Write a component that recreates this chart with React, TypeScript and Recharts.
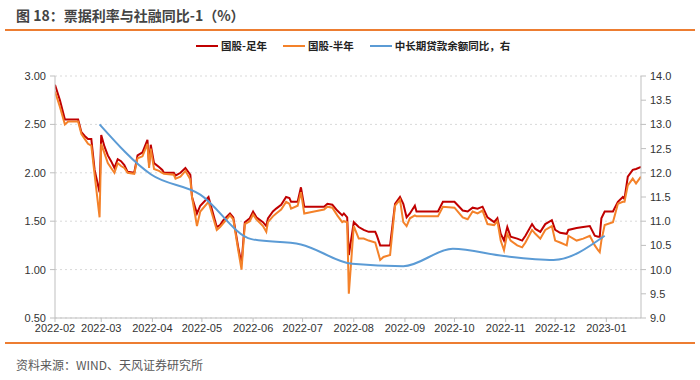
import { LineChart, Line, XAxis, YAxis, CartesianGrid } from "recharts";

// x values are days counted from 2022-02-01
const monthDays = [0, 28, 59, 89, 120, 150, 181, 212, 242, 273, 303, 334];
const monthLabels = [
  "2022-02", "2022-03", "2022-04", "2022-05", "2022-06", "2022-07",
  "2022-08", "2022-09", "2022-10", "2022-11", "2022-12", "2023-01",
];

const rateDays = [
  0, 3, 6, 8, 14, 16, 18, 20, 22, 24, 27, 28, 30, 32, 34, 36, 38, 40, 42, 44,
  48, 50, 53, 56, 57, 58, 60, 63, 65, 66, 72, 73, 76, 79, 82, 83, 86, 88, 93, 98,
  100, 102, 106, 108, 111, 113, 115, 118, 120, 122, 126, 128, 129, 132, 134, 137, 140, 142, 143, 147,
  149, 151, 157, 163, 165, 168, 171, 174, 175, 177, 178, 181, 184, 187, 190, 194, 195, 197, 199, 203,
  206, 209, 211, 213, 215, 218, 219, 232, 235, 242, 247, 250, 253, 256, 259, 262, 266, 268, 270, 272,
  274, 276, 280, 283, 285, 289, 291, 294, 297, 301, 303, 306, 310, 311, 316, 320, 324, 327, 329, 330,
  331, 333, 338, 341, 344, 345, 347, 350, 352, 355,
];

// 国股-足年
const fullYear = [
  2.91, 2.75, 2.55, 2.55, 2.55, 2.42, 2.38, 2.35, 2.35, 2.03, 1.80, 2.39, 2.27, 2.18, 2.12, 2.05, 2.14, 2.12, 2.08, 2.01,
  2.00, 2.18, 2.21, 2.34, 2.08, 2.29, 2.10, 2.06, 2.03, 2.00, 2.00, 1.97, 2.00, 2.05, 1.98, 1.75, 1.58, 1.66, 1.75, 1.44,
  1.46, 1.51, 1.58, 1.54, 1.23, 1.06, 1.49, 1.53, 1.60, 1.54, 1.49, 1.45, 1.53, 1.60, 1.63, 1.67, 1.75, 1.74, 1.70, 1.70,
  1.85, 1.65, 1.65, 1.65, 1.68, 1.67, 1.61, 1.56, 1.58, 1.54, 1.15, 1.49, 1.44, 1.41, 1.39, 1.39, 1.35, 1.25, 1.25, 1.25,
  1.68, 1.75, 1.68, 1.54, 1.58, 1.66, 1.60, 1.60, 1.70, 1.70, 1.61, 1.60, 1.64, 1.63, 1.65, 1.54, 1.49, 1.53, 1.37, 1.30,
  1.44, 1.34, 1.32, 1.30, 1.35, 1.47, 1.42, 1.39, 1.47, 1.51, 1.41, 1.38, 1.37, 1.41, 1.43, 1.44, 1.45, 1.35, 1.34, 1.34,
  1.53, 1.60, 1.60, 1.70, 1.75, 1.73, 1.96, 2.03, 2.04, 2.06,
];

// 国股-半年
const halfYear = [
  2.84, 2.68, 2.50, 2.53, 2.53, 2.40, 2.35, 2.30, 2.28, 1.98, 1.54, 2.30, 2.20, 2.10, 2.05, 2.00, 2.10, 2.07, 2.05, 2.00,
  1.99, 2.15, 2.17, 2.30, 2.05, 2.25, 2.04, 2.02, 2.00, 1.99, 1.98, 1.94, 1.96, 2.02, 1.93, 1.75, 1.45, 1.60, 1.70, 1.41,
  1.44, 1.48, 1.56, 1.52, 1.20, 1.00, 1.47, 1.50, 1.57, 1.52, 1.45, 1.39, 1.49, 1.55, 1.58, 1.62, 1.70, 1.68, 1.63, 1.66,
  1.80, 1.58, 1.60, 1.62, 1.65, 1.64, 1.56, 1.49, 1.50, 1.49, 0.75, 1.45, 1.32, 1.32, 1.30, 1.28, 1.22, 1.10, 1.13, 1.15,
  1.66, 1.72, 1.49, 1.45, 1.53, 1.56, 1.55, 1.55, 1.65, 1.64, 1.54, 1.52, 1.60, 1.58, 1.61, 1.47, 1.46, 1.50, 1.30, 1.20,
  1.37, 1.30, 1.25, 1.23, 1.28, 1.41, 1.37, 1.32, 1.41, 1.45, 1.30, 1.28, 1.25, 1.35, 1.30, 1.32, 1.35, 1.25, 1.20, 1.18,
  1.30, 1.46, 1.49, 1.68, 1.70, 1.70, 1.87, 1.94, 1.89, 1.96,
];

// 中长期贷款余额同比，右 (month ends)
const loanDays = [27, 58, 88, 119, 149, 180, 211, 241, 272, 302, 333];
const loanGrowth = [13.0, 11.97, 11.55, 10.63, 10.52, 10.12, 10.07, 10.43, 10.28, 10.2, 10.7];

const leftTicks = [0.5, 1, 1.5, 2, 2.5, 3];
const rightTicks = [9, 9.5, 10, 10.5, 11, 11.5, 12, 12.5, 13, 13.5, 14];

const rateData = rateDays.map((d, i) => ({ day: d, full: fullYear[i], half: halfYear[i] }));
const loanData = loanDays.map((d, i) => ({ day: d, loan: loanGrowth[i] }));

const cjk = '"Noto Sans CJK SC", "Noto Sans", sans-serif';
const num = '"Liberation Sans", Arial, sans-serif';
const tick = { fontSize: 11, fill: "#333", fontFamily: num };

function LegendItem({ color, label }: { color: string; label: string }) {
  return (
    <div style={{ display: "flex", alignItems: "center", marginRight: 16 }}>
      <div style={{ width: 22, height: 2, background: color, marginRight: 3 }} />
      <span style={{ fontSize: 10.5, fontWeight: 700, color: "#222", fontFamily: cjk }}>{label}</span>
    </div>
  );
}

export default function App() {
  return (
    <div style={styles.page}>
      <div style={styles.title}>图 18：票据利率与社融同比-1（%）</div>
      <div style={{ ...styles.rule, top: 29 }} />
      <div style={styles.legend}>
        <LegendItem color="#C00000" label="国股-足年" />
        <LegendItem color="#F4822A" label="国股-半年" />
        <LegendItem color="#5B9BD5" label="中长期贷款余额同比，右" />
      </div>
      <div style={{ position: "absolute", left: 0, top: 0 }}>
        <LineChart
          width={700}
          height={380}
          data={rateData}
          margin={{ top: 76, right: 9, bottom: 32, left: 5 }}
        >
          <CartesianGrid
            vertical={false}
            yAxisId="left"
            stroke="#d9d9d9"
            strokeDasharray="2 3"
          />
          <XAxis
            dataKey="day"
            type="number"
            domain={[0, 355]}
            ticks={monthDays}
            tickFormatter={(v) => monthLabels[monthDays.indexOf(v)]}
            interval={0}
            tick={tick}
            tickSize={4}
            height={30}
            stroke="#bfbfbf"
            allowDataOverflow
          />
          <YAxis
            yAxisId="left"
            domain={[0.5, 3]}
            ticks={leftTicks}
            tickFormatter={(v) => v.toFixed(2)}
            tick={tick}
            tickSize={5}
            tickMargin={4}
            width={50}
            stroke="#bfbfbf"
          />
          <YAxis
            yAxisId="right"
            orientation="right"
            domain={[9, 14]}
            ticks={rightTicks}
            tickFormatter={(v) => v.toFixed(1)}
            tick={tick}
            tickSize={5}
            tickMargin={4}
            width={50}
            stroke="#bfbfbf"
          />
          <Line
            yAxisId="left"
            dataKey="full"
            stroke="#C00000"
            strokeWidth={2}
            dot={false}
            type="linear"
            isAnimationActive={false}
          />
          <Line
            yAxisId="left"
            dataKey="half"
            stroke="#F4822A"
            strokeWidth={2}
            dot={false}
            type="linear"
            isAnimationActive={false}
          />
          <Line
            yAxisId="right"
            data={loanData}
            dataKey="loan"
            stroke="#5B9BD5"
            strokeWidth={2}
            dot={false}
            type="monotone"
            isAnimationActive={false}
          />
        </LineChart>
      </div>
      <div style={{ ...styles.rule, top: 342 }} />
      <div style={styles.source}>资料来源：WIND、天风证券研究所</div>
    </div>
  );
}

const styles: Record<string, React.CSSProperties> = {
  page: {
    position: "absolute",
    left: 0,
    top: 0,
    width: 700,
    height: 380,
    background: "#fff",
    overflow: "hidden",
  },
  title: {
    position: "absolute",
    left: 16,
    top: 5,
    fontSize: 14,
    fontWeight: 700,
    color: "#444",
    fontFamily: cjk,
    whiteSpace: "nowrap",
  },
  rule: {
    position: "absolute",
    left: 5,
    width: 690,
    height: 1.5,
    background: "#ED7D31",
  },
  legend: {
    position: "absolute",
    left: 196,
    top: 38,
    display: "flex",
    alignItems: "center",
    whiteSpace: "nowrap",
  },
  source: {
    position: "absolute",
    left: 16,
    top: 356,
    fontSize: 12,
    color: "#595959",
    fontFamily: cjk,
    whiteSpace: "nowrap",
  },
};
